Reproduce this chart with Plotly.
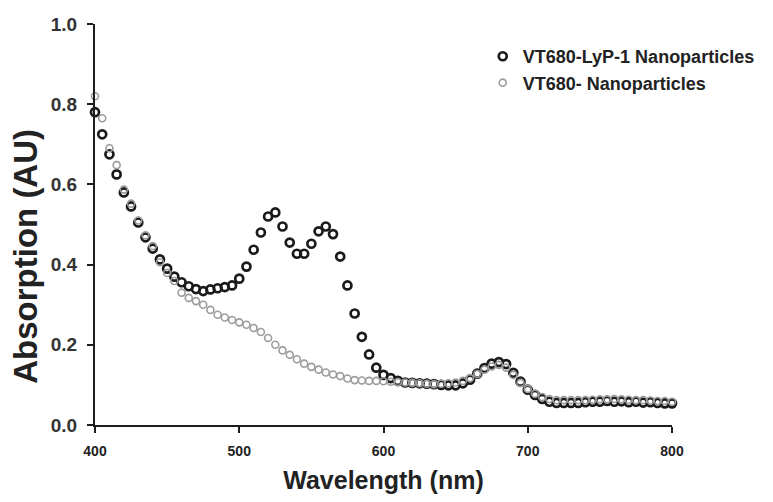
import plotly.graph_objects as go

wavelength = list(range(400, 805, 5))

lyp1 = [0.78, 0.725, 0.675, 0.625, 0.58, 0.545, 0.505, 0.468, 0.44, 0.413,
        0.39, 0.37, 0.356, 0.346, 0.339, 0.334, 0.338, 0.341, 0.344, 0.348,
        0.365, 0.395, 0.437, 0.48, 0.52, 0.53, 0.495, 0.455, 0.427, 0.427,
        0.452, 0.483, 0.495, 0.476, 0.42, 0.348, 0.278, 0.22, 0.176, 0.143,
        0.125, 0.117, 0.11, 0.106, 0.105, 0.104, 0.103, 0.102, 0.1, 0.099,
        0.099, 0.104, 0.113, 0.128, 0.142, 0.153, 0.157, 0.152, 0.13, 0.108,
        0.088, 0.075, 0.065, 0.058, 0.055, 0.055, 0.055, 0.055, 0.057, 0.058,
        0.058, 0.06, 0.058, 0.059, 0.057, 0.058, 0.056, 0.057, 0.055, 0.054,
        0.054]

plain = [0.82, 0.765, 0.69, 0.648, 0.587, 0.552, 0.51, 0.473, 0.446, 0.406,
         0.379, 0.359, 0.33, 0.317, 0.309, 0.30, 0.287, 0.275, 0.268, 0.262,
         0.256, 0.25, 0.242, 0.232, 0.217, 0.2, 0.186, 0.175, 0.164, 0.153,
         0.145, 0.138, 0.131, 0.126, 0.122, 0.116, 0.112, 0.111, 0.11, 0.11,
         0.109, 0.108, 0.107, 0.106, 0.105, 0.104, 0.103, 0.102, 0.103, 0.104,
         0.106, 0.11, 0.117, 0.127, 0.138, 0.146, 0.15, 0.143, 0.125, 0.105,
         0.09, 0.078, 0.07, 0.065, 0.062, 0.062, 0.062, 0.062, 0.062, 0.063,
         0.064, 0.064, 0.065, 0.064, 0.063, 0.062, 0.062, 0.061, 0.06, 0.06,
         0.058]

series_names = ["VT680-LyP-1 Nanoparticles", "VT680- Nanoparticles"]
x_ticks = [400, 500, 600, 700, 800]
y_ticks = [0.0, 0.2, 0.4, 0.6, 0.8, 1.0]

FONT = "Liberation Sans, Arial, sans-serif"

fig = go.Figure()
fig.add_trace(go.Scatter(
    x=wavelength, y=lyp1, mode="markers", name=series_names[0],
    cliponaxis=False,
    marker=dict(symbol="circle-open", size=8, color="#1a1a1a",
                line=dict(width=2.7, color="#1a1a1a")),
))
fig.add_trace(go.Scatter(
    x=wavelength, y=plain, mode="markers", name=series_names[1],
    cliponaxis=False,
    marker=dict(symbol="circle-open", size=7, color="#9c9c9c",
                line=dict(width=1.6, color="#9c9c9c")),
))

fig.update_layout(
    width=773, height=502,
    margin=dict(l=95, r=101, t=24, b=74),
    paper_bgcolor="white", plot_bgcolor="white",
    font=dict(family=FONT, color="#222"),
    showlegend=True,
    legend=dict(
        x=0.672, y=0.965, xanchor="left", yanchor="top",
        font=dict(family=FONT, size=18, color="#222", weight="bold"),
        bgcolor="rgba(0,0,0,0)", itemsizing="trace",
        tracegroupgap=0,
    ),
    xaxis=dict(
        range=[400, 800], tickvals=x_ticks, ticktext=[str(v) for v in x_ticks],
        showgrid=False, zeroline=False,
        showline=True, linecolor="#1e1e1e", linewidth=2,
        ticks="outside", ticklen=6, tickwidth=2, tickcolor="#1e1e1e",
        tickfont=dict(family=FONT, size=14, color="#222", weight="bold"),
        ticklabelstandoff=6,
        title=dict(text="Wavelength (nm)",
                   font=dict(family=FONT, size=25, color="#222", weight="bold"),
                   standoff=14),
    ),
    yaxis=dict(
        range=[0, 1.0], tickvals=y_ticks, ticktext=[f"{v:.1f}" for v in y_ticks],
        showgrid=False, zeroline=False,
        showline=True, linecolor="#1e1e1e", linewidth=2,
        ticks="outside", ticklen=6, tickwidth=2, tickcolor="#1e1e1e",
        tickfont=dict(family=FONT, size=19, color="#333", weight="bold"),
        ticklabelstandoff=6,
    ),
    annotations=[dict(
        text="Absorption (AU)", textangle=-90,
        xref="paper", yref="paper",
        x=-0.121, y=0.42, xanchor="center", yanchor="middle",
        showarrow=False,
        font=dict(family=FONT, size=33, color="#222", weight="bold"),
    )],
)

fig.write_html("out.html")
